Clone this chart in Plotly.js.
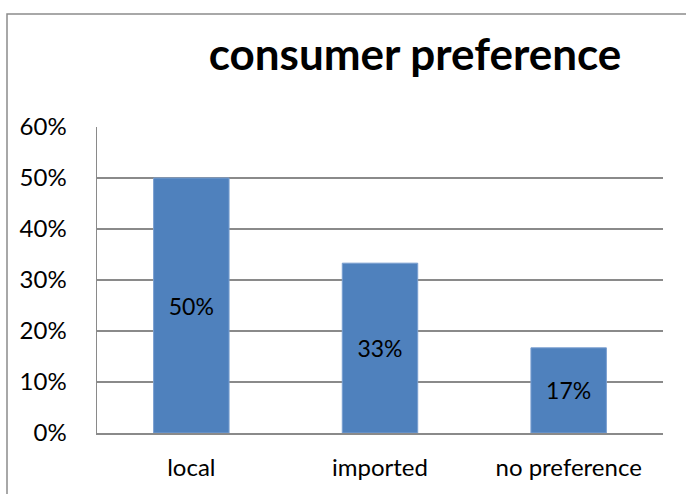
<!DOCTYPE html>
<html>
<head>
<meta charset="utf-8">
<script src="https://cdn.plot.ly/plotly-3.0.1.min.js"></script>
<style>html,body{margin:0;padding:0;background:#fff;}#chart{width:686px;height:494px;}</style>
</head>
<body>
<div id="chart"></div>
<script>
const categories = ["local", "imported", "no preference"];
const values = [0.50, 0.333, 0.167];
const valueLabels = ["50%", "33%", "17%"];
const yTickVals = [0, 0.1, 0.2, 0.3, 0.4, 0.5, 0.6];
const yTickText = ["0%", "10%", "20%", "30%", "40%", "50%", "60%"];

const FONT = "Lato, 'Open Sans', sans-serif";
const GRID = "#8a8a8a";

const trace = {
  type: "bar",
  x: categories,
  y: values,
  text: valueLabels,
  textposition: "inside",
  insidetextanchor: "middle",
  constraintext: "none",
  textfont: {family: FONT, size: 23, color: "#000"},
  marker: {color: "#4F81BD", line: {color: "#7a9fd0", width: 1}},
  hoverinfo: "none"
};

const layout = {
  width: 686, height: 494,
  margin: {l: 97, r: 23, t: 127, b: 61},
  paper_bgcolor: "#fff", plot_bgcolor: "#fff",
  showlegend: false,
  bargap: 0.6,
  font: {family: FONT, size: 24, color: "#000"},
  title: {
    text: "<b>consumer preference</b>",
    font: {family: FONT, size: 44, color: "#000"},
    x: 415/686, xanchor: "center", xref: "container",
    y: 1 - 55/494, yanchor: "middle", yref: "container"
  },
  xaxis: {
    showgrid: false, zeroline: false,
    showline: true, linecolor: GRID, linewidth: 1.5,
    ticks: "", ticklabelstandoff: 13,
    tickfont: {family: FONT, size: 24, color: "#000"},
    fixedrange: true
  },
  yaxis: {
    range: [0, 0.6], tickvals: yTickVals, ticktext: yTickText,
    showgrid: true, gridcolor: GRID, gridwidth: 1.5,
    zeroline: false, showline: true, linecolor: GRID, linewidth: 1.5,
    ticks: "", ticklabelstandoff: 24,
    tickfont: {family: FONT, size: 24, color: "#000"},
    fixedrange: true
  },
  shapes: [{
    type: "rect", xref: "paper", yref: "paper",
    x0: (7 - 97) / 566, x1: 1.2, y0: -0.5, y1: (494 - 61 - 14) / 306,
    line: {color: "#8c8c8c", width: 1.5}, fillcolor: "rgba(0,0,0,0)", layer: "below"
  }]
};

Plotly.newPlot("chart", [trace], layout, {displayModeBar: false, staticPlot: true});
</script>
</body>
</html>
